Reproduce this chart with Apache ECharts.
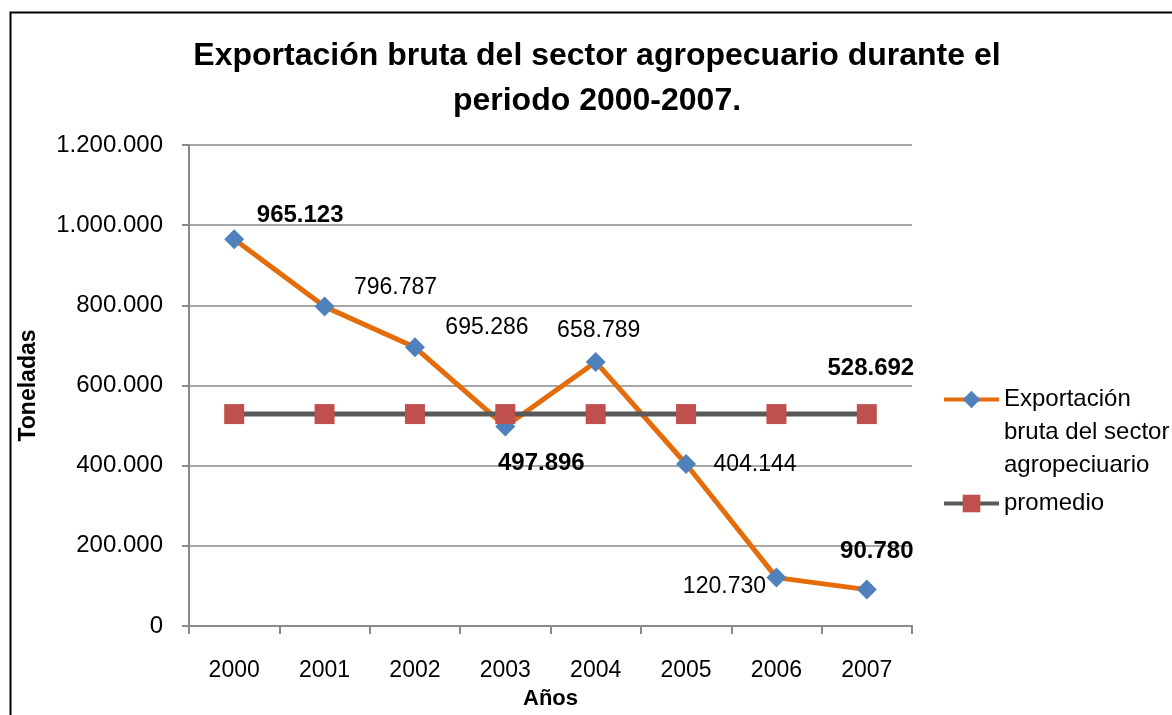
<!DOCTYPE html>
<html>
<head>
<meta charset="utf-8">
<script src="https://cdn.jsdelivr.net/npm/echarts@6/dist/echarts.min.js"></script>
<style>
  html, body { margin: 0; padding: 0; background: #fff; }
  #chart { width: 1172px; height: 715px; }
</style>
</head>
<body>
<div id="chart"></div>
<script>
const years = ["2000", "2001", "2002", "2003", "2004", "2005", "2006", "2007"];
const exportValues = [965123, 796787, 695286, 497896, 658789, 404144, 120730, 90780];
const averageValues = [528692, 528692, 528692, 528692, 528692, 528692, 528692, 528692];
const exportName = "Exportación\nbruta del sector\nagropeciuario";
const averageName = "promedio";

// where each value label sits relative to its point, as in the original
const exportLabelOffsets = [[66, -24], [71, -19], [72, -20], [36, 37], [3, -31], [69, 1], [-52, 9], [10, -38]];
const exportLabelBold = [true, false, false, true, false, false, false, true];

const FONT = '"Liberation Sans", Arial, sans-serif';
const GRID_GRAY = "#8a8a8a";

const fmt = (v) => String(v).replace(/\B(?=(\d{3})+(?!\d))/g, ".");

const exportData = exportValues.map((v, i) => ({
  value: v,
  label: {
    show: true,
    position: "inside",
    offset: exportLabelOffsets[i],
    fontWeight: exportLabelBold[i] ? "bold" : "normal",
    fontSize: exportLabelBold[i] ? 24 : 23,
  },
}));

const averageData = averageValues.map((v, i) => ({
  value: v,
  label: {
    show: i === averageValues.length - 1,
    position: "inside",
    offset: [4, -46],
    fontWeight: "bold",
    fontSize: 24,
  },
}));

const chart = echarts.init(document.getElementById("chart"));

const option = {
  backgroundColor: "#fff",
  animation: false,
  textStyle: { fontFamily: FONT },
  title: {
    text: "Exportación bruta del sector agropecuario durante el\nperiodo 2000-2007.",
    left: 597,
    top: 34,
    padding: 0,
    textAlign: "center",
    textStyle: {
      fontFamily: FONT,
      fontSize: 32,
      fontWeight: "bold",
      color: "#000",
      lineHeight: 45,
    },
  },
  graphic: [
    {
      type: "rect",
      left: 8,
      top: 10,
      shape: { width: 1200, height: 800 },
      style: { fill: "none", stroke: "#000", lineWidth: 2 },
      silent: true,
    },
  ],
  legend: {
    orient: "vertical",
    left: 942,
    top: 317,
    padding: 0,
    itemWidth: 55,
    itemHeight: 22,
    itemGap: 5,
    lineStyle: { width: 4 },
    textStyle: { fontFamily: FONT, fontSize: 24, color: "#000", lineHeight: 33 },
    // two empty lines in front keep the first line level with the icon
    formatter: (name) => (name === exportName ? "\n\n" + name : name),
    data: [exportName, averageName],
  },
  grid: { left: 189, top: 145, width: 723, height: 485 },
  xAxis: {
    type: "category",
    data: years,
    boundaryGap: true,
    name: "Años",
    nameLocation: "middle",
    nameGap: 62,
    nameTextStyle: { fontFamily: FONT, fontSize: 22, fontWeight: "bold", color: "#000" },
    axisLine: { show: true, lineStyle: { color: GRID_GRAY, width: 2 } },
    axisTick: { show: true, length: 8, interval: 0, lineStyle: { color: GRID_GRAY, width: 2 } },
    axisLabel: { fontFamily: FONT, fontSize: 23, color: "#000", margin: 33, interval: 0 },
    splitLine: { show: false },
  },
  yAxis: {
    type: "value",
    min: 0,
    max: 1200000,
    interval: 200000,
    name: "Toneladas",
    nameLocation: "middle",
    nameGap: 149,
    nameTextStyle: { fontFamily: FONT, fontSize: 23, fontWeight: "bold", color: "#000" },
    axisLine: { show: true, lineStyle: { color: GRID_GRAY, width: 2 } },
    axisTick: { show: true, length: 7, lineStyle: { color: GRID_GRAY, width: 2 } },
    axisLabel: { fontFamily: FONT, fontSize: 24, color: "#000", margin: 26, formatter: (v) => fmt(v) },
    splitLine: { show: true, lineStyle: { color: GRID_GRAY, width: 1.5 } },
  },
  series: [
    {
      name: exportName,
      type: "line",
      data: exportData,
      symbol: "diamond",
      symbolSize: 20,
      lineStyle: { color: "#E46C0A", width: 5 },
      itemStyle: { color: "#4F81BD" },
      label: {
        fontFamily: FONT,
        color: "#000",
        formatter: (p) => fmt(p.value),
      },
    },
    {
      name: averageName,
      type: "line",
      data: averageData,
      symbol: "rect",
      symbolSize: 20,
      lineStyle: { color: "#595959", width: 5 },
      itemStyle: { color: "#C0504D" },
      label: {
        fontFamily: FONT,
        color: "#000",
        formatter: (p) => fmt(p.value),
      },
    },
  ],
};

chart.setOption(option);
</script>
</body>
</html>
